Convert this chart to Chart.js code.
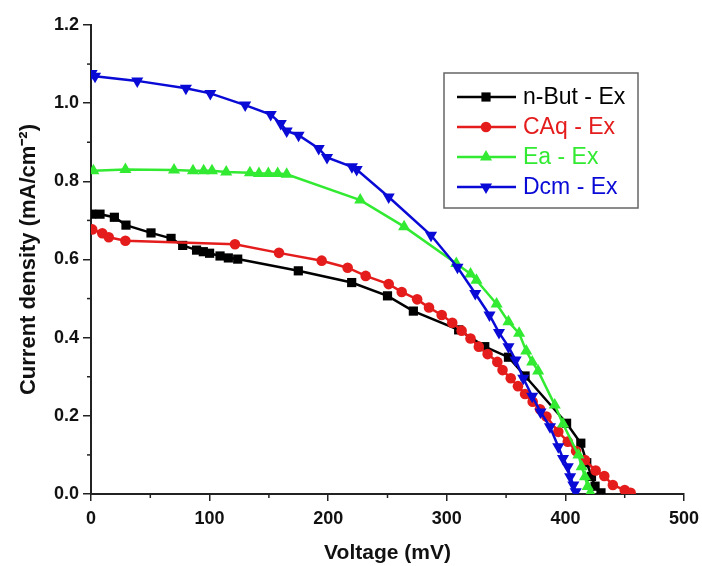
<!DOCTYPE html>
<html>
<head>
<meta charset="utf-8">
<script src="https://cdn.jsdelivr.net/npm/chart.js@4.4.1/dist/chart.umd.min.js"></script>
<style>
  html, body { margin: 0; padding: 0; background: #fff; }
  #wrap { width: 702px; height: 566px; position: relative; }
</style>
</head>
<body>
<div id="wrap"><canvas id="jvChart" width="702" height="566"></canvas></div>
<script>
// J-V curves, voltage in mV, current density in mA/cm2
const nButV = [0.6, 7.6, 19.7, 29.5, 50.6, 67.5, 77.3, 89, 94.7, 100, 108.8, 115.8, 123.7, 174.8, 219.8, 250, 271.8, 310, 332, 352, 366, 401, 413, 418, 422, 425, 430];
const nButJ = [0.716, 0.716, 0.708, 0.688, 0.668, 0.654, 0.636, 0.624, 0.62, 0.616, 0.609, 0.604, 0.601, 0.571, 0.541, 0.507, 0.468, 0.42, 0.377, 0.35, 0.302, 0.181, 0.13, 0.08, 0.045, 0.02, 0.003];

const caqV = [1, 9.5, 15, 29, 121.4, 158.5, 194.5, 216.4, 231.6, 251, 262, 275, 285, 295.7, 304.6, 312.5, 320, 327, 334.4, 342.6, 347, 353.9, 360, 366, 372.4, 378.6, 384, 394, 402, 409, 416.5, 425.5, 432.8, 440, 450, 455];
const caqJ = [0.677, 0.667, 0.657, 0.648, 0.639, 0.617, 0.597, 0.579, 0.558, 0.537, 0.517, 0.498, 0.477, 0.458, 0.438, 0.418, 0.398, 0.377, 0.358, 0.338, 0.317, 0.296, 0.276, 0.256, 0.236, 0.217, 0.198, 0.159, 0.134, 0.11, 0.087, 0.06, 0.046, 0.023, 0.01, 0.003];

const eaV = [2, 29, 70, 86, 95, 102, 114, 134, 141.6, 149.5, 157.4, 165, 227, 264, 308, 320, 325, 342, 352, 361, 367, 372, 377, 391, 398, 411, 413.7, 416.5, 418.8, 421];
const eaJ = [0.827, 0.83, 0.829, 0.827, 0.827, 0.827, 0.824, 0.822, 0.82, 0.82, 0.82, 0.818, 0.752, 0.684, 0.59, 0.563, 0.547, 0.486, 0.441, 0.411, 0.366, 0.338, 0.315, 0.228, 0.179, 0.1, 0.07, 0.044, 0.019, 0.003];

const dcmV = [0.5, 3.4, 39, 80, 100.6, 130, 151.5, 160, 165, 175, 192, 199, 220, 224, 251, 286.7, 309, 324, 336, 344, 352, 358, 364.5, 372, 379, 387, 394, 398, 402, 404, 406.7, 408.7];
const dcmJ = [1.076, 1.069, 1.057, 1.038, 1.025, 0.995, 0.971, 0.948, 0.929, 0.918, 0.884, 0.861, 0.837, 0.830, 0.760, 0.662, 0.58, 0.513, 0.458, 0.413, 0.377, 0.343, 0.296, 0.25, 0.21, 0.172, 0.121, 0.091, 0.07, 0.044, 0.023, 0.006];

const seriesNames = ['n-But - Ex', 'CAq - Ex', 'Ea - Ex', 'Dcm - Ex'];
const xTicks = [0, 100, 200, 300, 400, 500];
const yTicks = [0, 0.2, 0.4, 0.6, 0.8, 1.0, 1.2];

const FONT = '"Liberation Sans", Arial, sans-serif';

function toPoints(xs, ys) {
  return xs.map((x, i) => ({ x: x, y: ys[i] }));
}

function makeSet(label, xs, ys, color, style, radius, rotation, order) {
  return {
    label: label,
    data: toPoints(xs, ys),
    showLine: true,
    borderColor: color,
    backgroundColor: color,
    borderWidth: 2.5,
    pointStyle: style,
    pointRadius: radius,
    pointRotation: rotation,
    pointBorderWidth: 0,
    order: order
  };
}

// minor ticks + framed legend, drawn by hand
const extras = {
  id: 'extras',
  afterDraw(chart) {
    const ctx = chart.ctx;
    const xs = chart.scales.x, ys = chart.scales.y;
    const area = chart.chartArea;
    ctx.save();
    ctx.strokeStyle = '#222';
    ctx.lineWidth = 1.5;
    for (let v = 50; v < 500; v += 100) {
      const px = xs.getPixelForValue(v);
      ctx.beginPath(); ctx.moveTo(px, area.bottom); ctx.lineTo(px, area.bottom + 4); ctx.stroke();
    }
    for (let v = 0.1; v < 1.2; v += 0.2) {
      const py = ys.getPixelForValue(v);
      ctx.beginPath(); ctx.moveTo(area.left, py); ctx.lineTo(area.left - 4, py); ctx.stroke();
    }

    // legend
    const bx = area.right - 240, by = 73, bw = 194, bh = 135;
    ctx.strokeStyle = '#666';
    ctx.lineWidth = 1.5;
    ctx.strokeRect(bx, by, bw, bh);
    ctx.font = '23px ' + FONT;
    ctx.textBaseline = 'middle';
    chart.data.datasets.forEach((ds, i) => {
      const ry = by + 24 + i * 30;
      ctx.strokeStyle = ds.borderColor;
      ctx.lineWidth = 2.5;
      ctx.beginPath(); ctx.moveTo(bx + 13, ry); ctx.lineTo(bx + 72, ry); ctx.stroke();
      ctx.fillStyle = ds.backgroundColor;
      Chart.helpers.drawPoint(ctx, { pointStyle: ds.pointStyle, rotation: ds.pointRotation, radius: ds.pointRadius, borderWidth: 0 }, bx + 42, ry);
      ctx.fillText(ds.label, bx + 79, ry + 1);
    });
    ctx.restore();
  }
};

new Chart(document.getElementById('jvChart'), {
  type: 'scatter',
  data: {
    datasets: [
      makeSet(seriesNames[0], nButV, nButJ, '#000000', 'rect', 6.5, 0, 3),
      makeSet(seriesNames[1], caqV, caqJ, '#e41c1c', 'circle', 5.3, 0, 2),
      makeSet(seriesNames[2], eaV, eaJ, '#33ea33', 'triangle', 7, 0, 1),
      makeSet(seriesNames[3], dcmV, dcmJ, '#0a0ad6', 'triangle', 7, 180, 0)
    ]
  },
  options: {
    responsive: false,
    animation: false,
    layout: { padding: { left: 0, top: 25, right: 18, bottom: 0 } },
    plugins: {
      legend: { display: false },
      tooltip: { enabled: false }
    },
    scales: {
      x: {
        type: 'linear',
        min: 0,
        max: 500,
        afterBuildTicks: (scale) => { scale.ticks = xTicks.map(v => ({ value: v })); },
        afterFit: (scale) => { scale.height = 72; scale.paddingRight = 0; },
        border: { display: true, color: '#222', width: 2 },
        grid: { drawOnChartArea: false, drawTicks: true, tickLength: 7, color: '#222', lineWidth: 1.5 },
        ticks: {
          color: '#111',
          font: { family: FONT, size: 18, weight: 'bold' },
          padding: 7,
          maxRotation: 0
        },
        title: {
          display: true,
          text: 'Voltage (mV)',
          color: '#111',
          font: { family: FONT, size: 21, weight: 'bold' },
          padding: { top: 0, bottom: 0 }
        }
      },
      y: {
        type: 'linear',
        min: 0,
        max: 1.2,
        afterBuildTicks: (scale) => { scale.ticks = yTicks.map(v => ({ value: v })); },
        afterFit: (scale) => { scale.width = 91; },
        border: { display: true, color: '#222', width: 2 },
        grid: { drawOnChartArea: false, drawTicks: true, tickLength: 8, color: '#222', lineWidth: 1.5 },
        ticks: {
          color: '#111',
          font: { family: FONT, size: 18, weight: 'bold' },
          padding: 4,
          callback: (v) => v.toFixed(1)
        },
        title: {
          display: true,
          text: 'Current density (mA/cm⁻²)',
          color: '#111',
          font: { family: FONT, size: 22, weight: 'bold' },
          padding: { top: 16, bottom: 0 }
        }
      }
    }
  },
  plugins: [extras]
});
</script>
</body>
</html>
